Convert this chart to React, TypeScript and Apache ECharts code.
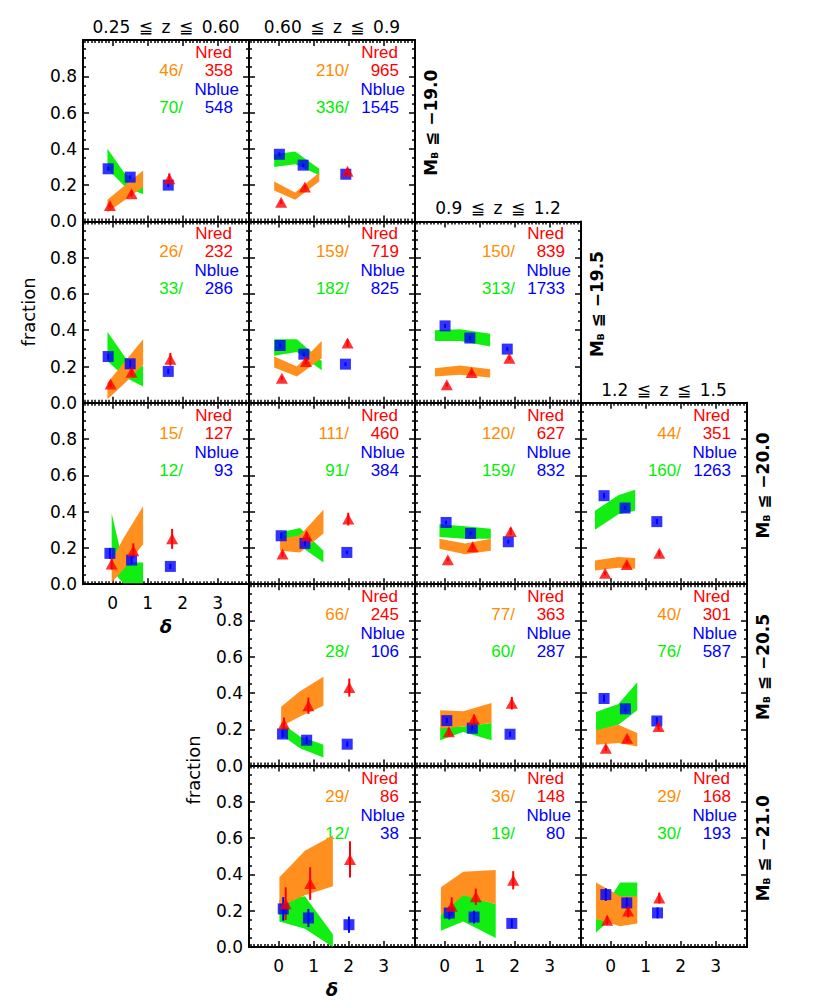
import { useEffect, useRef } from 'react';
import * as echarts from 'echarts';

// ---------------- data ----------------
const panelRow = [0, 0, 1, 1, 1, 2, 2, 2, 2, 3, 3, 3, 4, 4, 4];
const panelCol = [0, 1, 0, 1, 2, 0, 1, 2, 3, 1, 2, 3, 1, 2, 3];

const nRedSel = [46, 210, 26, 159, 150, 15, 111, 120, 44, 66, 77, 40, 29, 36, 29];
const nRedAll = [358, 965, 232, 719, 839, 127, 460, 627, 351, 245, 363, 301, 86, 148, 168];
const nBlueSel = [70, 336, 33, 182, 313, 12, 91, 159, 160, 28, 60, 76, 12, 19, 30];
const nBlueAll = [548, 1545, 286, 825, 1733, 93, 384, 832, 1263, 106, 287, 587, 38, 80, 193];

const zTitles = ['0.25 ≦ z ≦ 0.60', '0.60 ≦ z ≦ 0.9', '0.9 ≦ z ≦ 1.2', '1.2 ≦ z ≦ 1.5'];
const magLimits = ['−19.0', '−19.5', '−20.0', '−20.5', '−21.0'];
const xTickValues = [0, 1, 2, 3];

const blueX = [
  [-0.13, 0.5, 1.59], [0.02, 0.7, 1.92], [-0.13, 0.5, 1.59], [0.04, 0.72, 1.91], [0.01, 0.72, 1.79],
  [-0.08, 0.54, 1.65], [0.07, 0.75, 1.95], [0.04, 0.74, 1.82], [-0.19, 0.41, 1.32],
  [0.11, 0.8, 1.96], [0.06, 0.79, 1.87], [-0.19, 0.42, 1.32],
  [0.13, 0.85, 2.01], [0.13, 0.84, 1.92], [-0.14, 0.46, 1.34],
];
const blueY = [
  [0.29, 0.244, 0.2], [0.37, 0.31, 0.26], [0.255, 0.215, 0.173], [0.316, 0.268, 0.213], [0.424, 0.357, 0.296],
  [0.17, 0.133, 0.098], [0.267, 0.225, 0.175], [0.34, 0.28, 0.234], [0.488, 0.42, 0.345],
  [0.174, 0.14, 0.118], [0.248, 0.206, 0.173], [0.37, 0.313, 0.246],
  [0.21, 0.16, 0.123], [0.187, 0.165, 0.13], [0.289, 0.243, 0.188],
];
const blueErr = [
  [0.01, 0.01, 0.01], [0.01, 0.01, 0.01], [0.015, 0.02, 0.015], [0.01, 0.01, 0.01], [0.01, 0.01, 0.01],
  [0.03, 0.02, 0.015], [0.015, 0.015, 0.01], [0.01, 0.01, 0.01], [0.015, 0.01, 0.015],
  [0.02, 0.02, 0.015], [0.015, 0.015, 0.015], [0.02, 0.015, 0.02],
  [0.065, 0.05, 0.045], [0.035, 0.035, 0.025], [0.035, 0.03, 0.03],
];
const redX = [
  [-0.08, 0.54, 1.62], [0.07, 0.75, 1.97], [-0.06, 0.54, 1.65], [0.09, 0.78, 1.97], [0.06, 0.77, 1.85],
  [-0.03, 0.59, 1.7], [0.11, 0.8, 1.99], [0.09, 0.8, 1.89], [-0.16, 0.46, 1.39],
  [0.15, 0.85, 2.02], [0.12, 0.84, 1.92], [-0.14, 0.47, 1.37],
  [0.2, 0.9, 2.04], [0.2, 0.89, 1.96], [-0.1, 0.5, 1.39],
];
const redY = [
  [0.088, 0.153, 0.235], [0.106, 0.19, 0.277], [0.103, 0.169, 0.24], [0.136, 0.228, 0.329], [0.099, 0.167, 0.246],
  [0.111, 0.185, 0.25], [0.166, 0.267, 0.359], [0.135, 0.207, 0.291], [0.06, 0.108, 0.17],
  [0.23, 0.33, 0.43], [0.187, 0.256, 0.344], [0.096, 0.151, 0.215],
  [0.239, 0.35, 0.483], [0.224, 0.277, 0.368], [0.147, 0.198, 0.27],
];
const redErr = [
  [0.01, 0.015, 0.03], [0.01, 0.01, 0.015], [0.015, 0.02, 0.035], [0.01, 0.015, 0.02], [0.01, 0.01, 0.01],
  [0.03, 0.04, 0.055], [0.015, 0.02, 0.035], [0.01, 0.015, 0.02], [0.01, 0.01, 0.015],
  [0.035, 0.045, 0.05], [0.02, 0.025, 0.035], [0.015, 0.015, 0.02],
  [0.09, 0.09, 0.1], [0.05, 0.045, 0.05], [0.025, 0.035, 0.03],
];
const bandX = [
  [-0.15, 0.36, 0.87], [-0.13, 0.47, 1.16], [-0.15, 0.36, 0.87], [-0.13, 0.52, 1.23], [-0.28, 0.44, 1.3],
  [-0.03, 0.3, 0.87], [0.04, 0.61, 1.28], [-0.15, 0.58, 1.32], [-0.45, 0.22, 0.7],
  [0.07, 0.61, 1.28], [-0.13, 0.53, 1.34], [-0.42, 0.22, 0.76],
  [0.02, 0.75, 1.55], [-0.11, 0.53, 1.46], [-0.42, 0.27, 0.76],
];
const greenHi = [
  [0.4, 0.26, 0.2], [0.37, 0.385, 0.29], [0.39, 0.25, 0.2], [0.35, 0.35, 0.23], [0.4, 0.405, 0.38],
  [0.39, 0.12, 0.12], [0.285, 0.31, 0.185], [0.33, 0.32, 0.305], [0.405, 0.49, 0.52],
  [0.235, 0.16, 0.115], [0.21, 0.215, 0.235], [0.295, 0.34, 0.46],
  [0.26, 0.28, 0.07], [0.18, 0.29, 0.235], [0.15, 0.355, 0.355],
];
const greenLo = [
  [0.29, 0.19, 0.15], [0.3, 0.315, 0.255], [0.23, 0.14, 0.09], [0.26, 0.28, 0.18], [0.34, 0.34, 0.31],
  [0.08, 0.005, 0.005], [0.235, 0.21, 0.12], [0.26, 0.25, 0.25], [0.3, 0.385, 0.405],
  [0.17, 0.095, 0.045], [0.14, 0.185, 0.14], [0.19, 0.225, 0.305],
  [0.14, 0.1, 0.0], [0.09, 0.14, 0.05], [0.08, 0.2, 0.25],
];
const orangeHi = [
  [0.12, 0.2, 0.28], [0.22, 0.16, 0.27], [0.11, 0.23, 0.35], [0.255, 0.2, 0.34], [0.19, 0.205, 0.185],
  [0.13, 0.25, 0.43], [0.25, 0.27, 0.41], [0.25, 0.225, 0.25], [0.13, 0.15, 0.145],
  [0.325, 0.41, 0.49], [0.305, 0.3, 0.345], [0.195, 0.225, 0.18],
  [0.385, 0.53, 0.615], [0.33, 0.415, 0.425], [0.355, 0.28, 0.28],
];
const orangeLo = [
  [0.05, 0.12, 0.19], [0.17, 0.12, 0.22], [0.02, 0.11, 0.21], [0.195, 0.145, 0.245], [0.145, 0.155, 0.14],
  [0.01, 0.08, 0.22], [0.185, 0.175, 0.28], [0.195, 0.165, 0.185], [0.075, 0.09, 0.085],
  [0.215, 0.27, 0.33], [0.205, 0.215, 0.235], [0.115, 0.125, 0.105],
  [0.22, 0.285, 0.335], [0.175, 0.285, 0.235], [0.155, 0.115, 0.13],
];

// ---------------- layout / style ----------------
const COL_LEFT = [83, 249, 415, 581];
const ROW_TOP = [40, 221.4, 402.8, 584.2, 765.6];
const PW = 166;
const PH = 181.4;
const X_MIN = -0.85;
const X_MAX = 3.9;
const xLabelPanels = [5, 12, 13, 14];
const yLabelPanels = [0, 2, 5, 9, 12];
const deltaPanels = [5, 12];
const titlePanels = [0, 1, 4, 8];
const rowLastPanel = [1, 4, 8, 11, 14];

const RED = '#ff0000';
const BLUE = '#0000ff';
const GREEN_TXT = '#00ee00';
const ORANGE_TXT = '#ff8c00';
const GREEN_FILL = '#12ee12';
const ORANGE_FILL = '#ff9020';
const AX_FONT = '"DejaVu Sans", sans-serif';
const TXT_FONT = '"Liberation Sans", Arial, sans-serif';

function xAxisCfg(i: number, pos: string, showLabel: boolean, name: string) {
  return {
    type: 'value', gridIndex: i, position: pos, min: X_MIN, max: X_MAX, splitNumber: 5,
    axisLine: { show: true, onZero: false, lineStyle: { color: '#000', width: 2 } },
    axisTick: { show: true, inside: true, length: 6, lineStyle: { color: '#000', width: 1.5 } },
    minorTick: { show: true, splitNumber: 10, length: 3, lineStyle: { color: '#000', width: 1.5 } },
    axisLabel: {
      show: showLabel, customValues: xTickValues, margin: 10, lineHeight: 17,
      color: '#000', fontFamily: AX_FONT, fontSize: 17,
    },
    splitLine: { show: false },
    name, nameLocation: 'middle', nameGap: 33,
    nameTextStyle: { color: '#000', fontFamily: AX_FONT, fontSize: 18, fontStyle: 'italic', fontWeight: 'bold' },
  };
}
function yAxisCfg(i: number, pos: string, showLabel: boolean) {
  return {
    type: 'value', gridIndex: i, position: pos, min: 0, max: 1, interval: 0.2,
    axisLine: { show: true, onZero: false, lineStyle: { color: '#000', width: 2 } },
    axisTick: { show: true, inside: true, length: 6, lineStyle: { color: '#000', width: 1.5 } },
    minorTick: { show: true, splitNumber: 4, length: 3, lineStyle: { color: '#000', width: 1.5 } },
    axisLabel: {
      show: showLabel, margin: 6, lineHeight: 16, color: '#000', fontFamily: AX_FONT, fontSize: 17,
      formatter: (v: number) => (v > 0.95 ? '' : v.toFixed(1)),
    },
    splitLine: { show: false },
  };
}
function txt(x: number, y: number, text: string, fill: string, align: string, extra: any = {}) {
  return {
    type: 'text', x, y, silent: true, ...extra,
    style: {
      text, fill, align, verticalAlign: 'middle', textAlign: align, textVerticalAlign: 'middle',
      fontFamily: TXT_FONT, fontSize: 17, ...(extra.style || {}),
    },
  };
}

function bandSeries(i: number, lo: number[][], hi: number[][], color: string, z: number) {
  const flat: number[] = [];
  for (let k = 0; k < 3; k++) flat.push(bandX[i][k], lo[i][k], hi[i][k]);
  return {
    type: 'custom', xAxisIndex: 2 * i, yAxisIndex: 2 * i, z, silent: true,
    dimensions: ['x0', 'l0', 'h0', 'x1', 'l1', 'h1', 'x2', 'l2', 'h2'],
    encode: { x: [0, 3, 6], y: [1, 2, 4, 5, 7, 8] },
    data: [flat],
    renderItem: (_p: any, api: any) => {
      const low: number[][] = [];
      const high: number[][] = [];
      for (let k = 0; k < 3; k++) {
        const x = api.value(3 * k);
        low.push(api.coord([x, api.value(3 * k + 1)]));
        high.push(api.coord([x, api.value(3 * k + 2)]));
      }
      return { type: 'polygon', shape: { points: low.concat(high.reverse()) }, style: { fill: color } };
    },
  };
}
function errSeries(i: number, xs: number[][], ys: number[][], es: number[][], color: string) {
  return {
    type: 'custom', xAxisIndex: 2 * i, yAxisIndex: 2 * i, z: 4, silent: true,
    dimensions: ['x', 'lo', 'hi'], encode: { x: 0, y: [1, 2] },
    data: xs[i].map((x, k) => [x, ys[i][k] - es[i][k], ys[i][k] + es[i][k]]),
    renderItem: (_p: any, api: any) => {
      const a = api.coord([api.value(0), api.value(1)]);
      const b = api.coord([api.value(0), api.value(2)]);
      return { type: 'line', shape: { x1: a[0], y1: a[1], x2: b[0], y2: b[1] }, style: { stroke: color, lineWidth: 2 } };
    },
  };
}

function buildOption() {
  const grid: any[] = [];
  const xAxis: any[] = [];
  const yAxis: any[] = [];
  const series: any[] = [];
  const elements: any[] = [];
  for (let i = 0; i < panelRow.length; i++) {
    const left = COL_LEFT[panelCol[i]];
    const top = ROW_TOP[panelRow[i]];
    const right = left + PW;
    grid.push({ left, top, width: PW, height: PH });
    xAxis.push(xAxisCfg(i, 'bottom', xLabelPanels.includes(i), deltaPanels.includes(i) ? 'δ' : ''));
    xAxis.push(xAxisCfg(i, 'top', false, ''));
    yAxis.push(yAxisCfg(i, 'left', yLabelPanels.includes(i)));
    yAxis.push(yAxisCfg(i, 'right', false));

    series.push(bandSeries(i, greenLo, greenHi, GREEN_FILL, 1));
    series.push(bandSeries(i, orangeLo, orangeHi, ORANGE_FILL, 2));
    series.push(errSeries(i, blueX, blueY, blueErr, BLUE));
    series.push({
      type: 'scatter', xAxisIndex: 2 * i, yAxisIndex: 2 * i, z: 5, silent: true,
      symbol: 'rect', symbolSize: 11, itemStyle: { color: BLUE },
      data: blueX[i].map((x, k) => [x, blueY[i][k]]),
    });
    series.push(errSeries(i, redX, redY, redErr, RED));
    series.push({
      type: 'scatter', xAxisIndex: 2 * i, yAxisIndex: 2 * i, z: 6, silent: true,
      symbol: 'triangle', symbolSize: [12, 11], itemStyle: { color: RED },
      data: redX[i].map((x, k) => [x, redY[i][k]]),
    });

    elements.push(txt(right - 17, top + 12.5, 'Nred', RED, 'right'));
    elements.push(txt(right - 66, top + 30.5, `${nRedSel[i]}/`, ORANGE_TXT, 'right'));
    elements.push(txt(right - 16, top + 30.5, `${nRedAll[i]}`, RED, 'right'));
    elements.push(txt(right - 10, top + 49.5, 'Nblue', BLUE, 'right'));
    elements.push(txt(right - 66, top + 67.5, `${nBlueSel[i]}/`, GREEN_TXT, 'right'));
    elements.push(txt(right - 16, top + 67.5, `${nBlueAll[i]}`, BLUE, 'right'));
  }

  titlePanels.forEach((p, c) => {
    const left = COL_LEFT[panelCol[p]];
    const top = ROW_TOP[panelRow[p]];
    elements.push(txt(left + PW / 2, top - 13, zTitles[c].replace(/ /g, '\u2002'), '#000', 'center',
      { style: { fontFamily: AX_FONT, fontSize: 17 } }));
  });

  rowLastPanel.forEach((p, r) => {
    const right = COL_LEFT[panelCol[p]] + PW;
    const top = ROW_TOP[panelRow[p]];
    elements.push({
      type: 'text', x: right + 16, y: top + PH / 2 - 8, rotation: Math.PI / 2, silent: true,
      style: {
        text: `{m|M}{s|B}{m| ≦ ${magLimits[r]}}`,
        fill: '#000', align: 'center', verticalAlign: 'middle', textAlign: 'center', textVerticalAlign: 'middle',
        rich: {
          m: { fontFamily: AX_FONT, fontSize: 17, fontWeight: 'bold', fill: '#000' },
          s: { fontFamily: AX_FONT, fontSize: 9, fontWeight: 'bold', fill: '#000', verticalAlign: 'bottom' },
        },
      },
    });
  });

  elements.push(txt(28, 312, 'fraction', '#000', 'center', { rotation: Math.PI / 2, style: { fontFamily: AX_FONT, fontSize: 18 } }));
  elements.push(txt(193, 770, 'fraction', '#000', 'center', { rotation: Math.PI / 2, style: { fontFamily: AX_FONT, fontSize: 18 } }));

  return {
    animation: false,
    backgroundColor: '#fff',
    grid, xAxis, yAxis, series,
    graphic: { elements },
  };
}

export default function App() {
  const ref = useRef<HTMLDivElement>(null);
  useEffect(() => {
    if (!ref.current) return;
    const chart = echarts.init(ref.current, undefined, { renderer: 'svg' });
    chart.setOption(buildOption() as any);
    return () => chart.dispose();
  }, []);
  return <div ref={ref} style={{ position: 'absolute', left: 0, top: 0, width: 830, height: 1008 }} />;
}
